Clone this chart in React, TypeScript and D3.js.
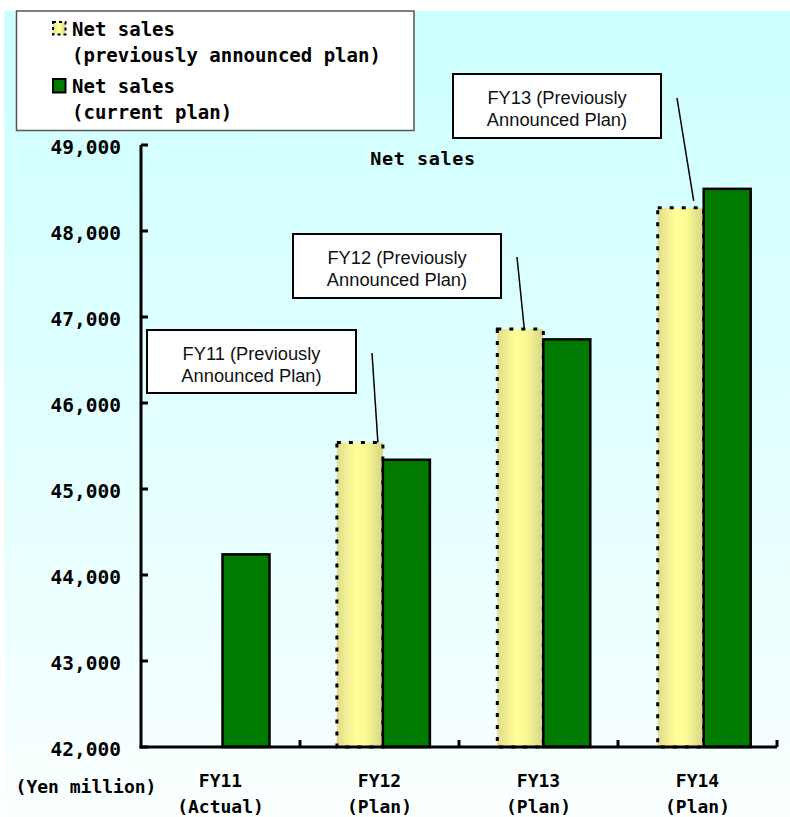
import React from "react";
import * as d3 from "d3";

// Net sales plans, yen million
const categories = ["FY11", "FY12", "FY13", "FY14"];
const categorySubLabels = ["(Actual)", "(Plan)", "(Plan)", "(Plan)"];
const previousPlan: (number | null)[] = [null, 45540, 46860, 48270];
const currentPlan: number[] = [44240, 45340, 46740, 48490];
const yTicks = [42000, 43000, 44000, 45000, 46000, 47000, 48000, 49000];
const annotationLines = [
  ["FY11 (Previously", "Announced Plan)"],
  ["FY12 (Previously", "Announced Plan)"],
  ["FY13 (Previously", "Announced Plan)"],
];
const annotatedCategories = ["FY12", "FY13", "FY14"];

const W = 790;
const H = 817;
const MONO = "'DejaVu Sans Mono', monospace";
const SANS = "'Liberation Sans', Arial, sans-serif";

// callout boxes: box position and leader start, leader end offset from bar's right edge
const calloutLayout = [
  { x: 147, y: 330, w: 209, h: 63, lx: 372, ly: 353, dx: -5, dy: 0 },
  { x: 293, y: 234, w: 208, h: 64, lx: 517, ly: 257, dx: -19, dy: 0 },
  { x: 453, y: 74, w: 208, h: 64, lx: 677, ly: 98, dx: -10, dy: -7 },
];

export default function App() {
  const y = d3.scaleLinear().domain([42000, 49000]).range([747, 145]);
  const xAxis = d3.scaleBand<string>().domain(categories).range([141, 777]);
  const xBars = d3.scaleBand<string>().domain(categories).range([142, 783.6]);
  const inner = d3
    .scaleBand<string>()
    .domain(["prev", "curr"])
    .range([34.5, 34.5 + 92]);

  const axisLeft = xAxis.range()[0];
  const axisRight = xAxis.range()[1];
  const yBottom = y(42000);
  const yTop = y(49000);

  return (
    <svg
      width={W}
      height={H}
      style={{ position: "absolute", left: 0, top: 0, display: "block" }}
    >
      <defs>
        <linearGradient id="bg" x1="0" y1="0" x2="0" y2="1">
          <stop offset="0" stopColor="#ccffff" />
          <stop offset="0.55" stopColor="#e3ffff" />
          <stop offset="1" stopColor="#fbffff" />
        </linearGradient>
        <linearGradient id="pale" x1="0" y1="0" x2="1" y2="0">
          <stop offset="0" stopColor="#e2dc8c" />
          <stop offset="0.4" stopColor="#ffff99" />
          <stop offset="0.6" stopColor="#fcfc96" />
          <stop offset="1" stopColor="#d8d486" />
        </linearGradient>
      </defs>

      <rect x={0} y={0} width={W} height={H} fill="#ffffff" />
      <rect x={4} y={11} width={W - 4} height={H - 11} fill="url(#bg)" />

      {/* legend */}
      <g>
        <rect
          x={16.5}
          y={11}
          width={397.5}
          height={119.5}
          fill="#ffffff"
          stroke="#555"
          strokeWidth={1.5}
        />
        <rect
          x={53}
          y={22}
          width={12.5}
          height={12.5}
          fill="url(#pale)"
          stroke="#000"
          strokeWidth={2}
          strokeDasharray="3 3"
        />
        <rect
          x={53}
          y={79}
          width={12.5}
          height={13.5}
          fill="#007a00"
          stroke="#000"
          strokeWidth={2}
        />
        <g fontFamily={MONO} fontWeight="bold" fontSize={19} fill="#000">
          <text x={72} y={35.5}>Net sales</text>
          <text x={72} y={61.5}>(previously announced plan)</text>
          <text x={72} y={93}>Net sales</text>
          <text x={72} y={118.5}>(current plan)</text>
        </g>
      </g>

      {/* title */}
      <text
        x={423}
        y={165}
        textAnchor="middle"
        fontFamily={MONO}
        fontWeight="bold"
        fontSize={18.5}
        letterSpacing={0.6}
      >
        Net sales
      </text>

      {/* bars */}
      {categories.map((c, i) => {
        const bx = xBars(c)!;
        const prev = previousPlan[i];
        const cur = currentPlan[i];
        return (
          <g key={c}>
            {prev !== null && (
              <rect
                x={bx + inner("prev")!}
                y={y(prev)}
                width={inner.bandwidth()}
                height={yBottom - y(prev)}
                fill="url(#pale)"
                stroke="#000"
                strokeWidth={3}
                strokeDasharray="4 8"
              />
            )}
            <rect
              x={bx + inner("curr")!}
              y={y(cur)}
              width={inner.bandwidth() + 1}
              height={yBottom - y(cur)}
              fill="#007a00"
              stroke="#000"
              strokeWidth={2.5}
            />
          </g>
        );
      })}

      {/* axes */}
      <g stroke="#000" strokeWidth={3} fill="none">
        <line x1={axisLeft} y1={yTop} x2={axisLeft} y2={yBottom + 1.5} />
        <line x1={axisLeft - 1.5} y1={yBottom} x2={axisRight} y2={yBottom} />
        {yTicks.map((t) => (
          <line key={t} x1={axisLeft} y1={y(t)} x2={axisLeft + 7} y2={y(t)} />
        ))}
        {categories.map((c) => {
          const xr = xAxis(c)! + xAxis.bandwidth();
          return <line key={c} x1={xr} y1={yBottom} x2={xr} y2={yBottom - 7} />;
        })}
      </g>

      {/* y tick labels */}
      <g fontFamily={MONO} fontWeight="bold" fontSize={19.5} fill="#000">
        {yTicks.map((t) => (
          <text key={t} x={121} y={y(t) + 9} textAnchor="end">
            {d3.format(",")(t)}
          </text>
        ))}
      </g>

      {/* category labels */}
      <g fontFamily={MONO} fontWeight="bold" fontSize={18} fill="#000">
        <text x={86} y={793} textAnchor="middle">
          (Yen million)
        </text>
        {categories.map((c, i) => {
          const cx = xAxis(c)! + xAxis.bandwidth() / 2;
          return (
            <g key={c}>
              <text x={cx} y={787} textAnchor="middle">
                {c}
              </text>
              <text x={cx} y={813} textAnchor="middle">
                {categorySubLabels[i]}
              </text>
            </g>
          );
        })}
      </g>

      {/* callouts for previously announced plan */}
      {calloutLayout.map((b, k) => {
        const cat = annotatedCategories[k];
        const idx = categories.indexOf(cat);
        const prev = previousPlan[idx] as number;
        const barRight = xBars(cat)! + inner("prev")! + inner.bandwidth();
        return (
          <g key={k}>
            <line
              x1={b.lx}
              y1={b.ly}
              x2={barRight + b.dx}
              y2={y(prev) + b.dy}
              stroke="#000"
              strokeWidth={1.5}
            />
            <rect
              x={b.x}
              y={b.y}
              width={b.w}
              height={b.h}
              fill="#ffffff"
              stroke="#000"
              strokeWidth={2}
            />
            <g fontFamily={SANS} fontSize={18.3} fill="#111" textAnchor="middle">
              <text x={b.x + b.w / 2} y={b.y + 29.5}>
                {annotationLines[k][0]}
              </text>
              <text x={b.x + b.w / 2} y={b.y + 51.5}>
                {annotationLines[k][1]}
              </text>
            </g>
          </g>
        );
      })}
    </svg>
  );
}
